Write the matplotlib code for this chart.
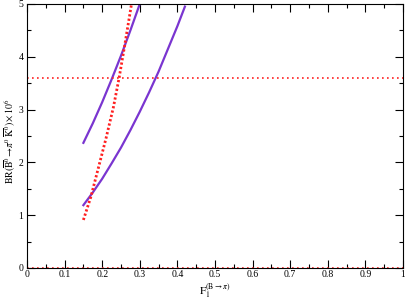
import matplotlib
matplotlib.use("Agg")
import matplotlib.pyplot as plt
from matplotlib.ticker import MultipleLocator, FuncFormatter

plt.rcParams['font.family'] = ['Liberation Serif', 'DejaVu Serif']
plt.rcParams['mathtext.fontset'] = 'stix'

# Data
F_upper = [0.15, 0.175, 0.20, 0.225, 0.25, 0.275, 0.30]
BR_upper = [2.37, 2.74, 3.14, 3.57, 4.02, 4.50, 5.00]

F_lower = [0.15, 0.175, 0.20, 0.225, 0.25, 0.275, 0.30, 0.325, 0.35, 0.375, 0.40, 0.42]
BR_lower = [1.19, 1.43, 1.69, 1.98, 2.28, 2.61, 2.96, 3.33, 3.72, 4.15, 4.58, 4.95]

F_red = [0.15, 0.17, 0.19, 0.21, 0.23, 0.245, 0.26, 0.278]
BR_red = [0.91, 1.35, 1.90, 2.45, 3.05, 3.60, 4.22, 5.00]

exp_value = 3.6
x_range = [0.0, 1.0]

fig = plt.figure(figsize=(4.06, 2.99), dpi=100)
ax = fig.add_axes([0.0665, 0.1037, 0.926, 0.883])

purple = '#7a35d0'
red = '#ff2020'
ax.plot(F_upper, BR_upper, color=purple, lw=1.6)
ax.plot(F_lower, BR_lower, color=purple, lw=1.6)
ax.plot(F_red, BR_red, color=red, lw=2.0, ls=(0, (0.8, 0.8)))
ax.plot(x_range, [exp_value, exp_value], color=red, lw=1.2, ls=(0, (1, 2)))
ax.plot(x_range, [0, 0], color=red, lw=1.2, ls=(0, (1, 2)))

ax.set_xlim(0, 1)
ax.set_ylim(0, 5)
ax.xaxis.set_major_locator(MultipleLocator(0.1))
ax.xaxis.set_minor_locator(MultipleLocator(0.05))
ax.yaxis.set_major_locator(MultipleLocator(1))
ax.yaxis.set_minor_locator(MultipleLocator(0.5))
ax.tick_params(which='both', direction='in', top=True, right=True, labelsize=7)
ax.tick_params(which='major', length=6, width=0.8)
ax.tick_params(which='minor', length=3, width=0.8)
ax.tick_params(axis='x', which='both', pad=1.5)
ax.tick_params(axis='y', which='both', pad=2.5)
ax.xaxis.set_major_formatter(FuncFormatter(lambda v, p: '%g' % round(v, 2)))
ax.yaxis.set_major_formatter(FuncFormatter(lambda v, p: '%g' % v))

ax.set_xlabel(r'$\mathrm{F}_1^{(\mathrm{B}\rightarrow\pi)}$', fontsize=8)
ax.xaxis.set_label_coords(0.5, -0.05, transform=ax.transAxes)
ax.xaxis.label.set_va('top')
ax.set_ylabel(r'$\mathrm{BR}(\overline{\mathrm{B}}^0\!\rightarrow\!\pi^0\,\overline{\mathrm{K}}^0)\times10^6$', fontsize=7)
ax.yaxis.set_label_coords(-0.045, 0.48, transform=ax.transAxes)
ax.yaxis.label.set_va('center')

fig.savefig('out.png', dpi=100)
